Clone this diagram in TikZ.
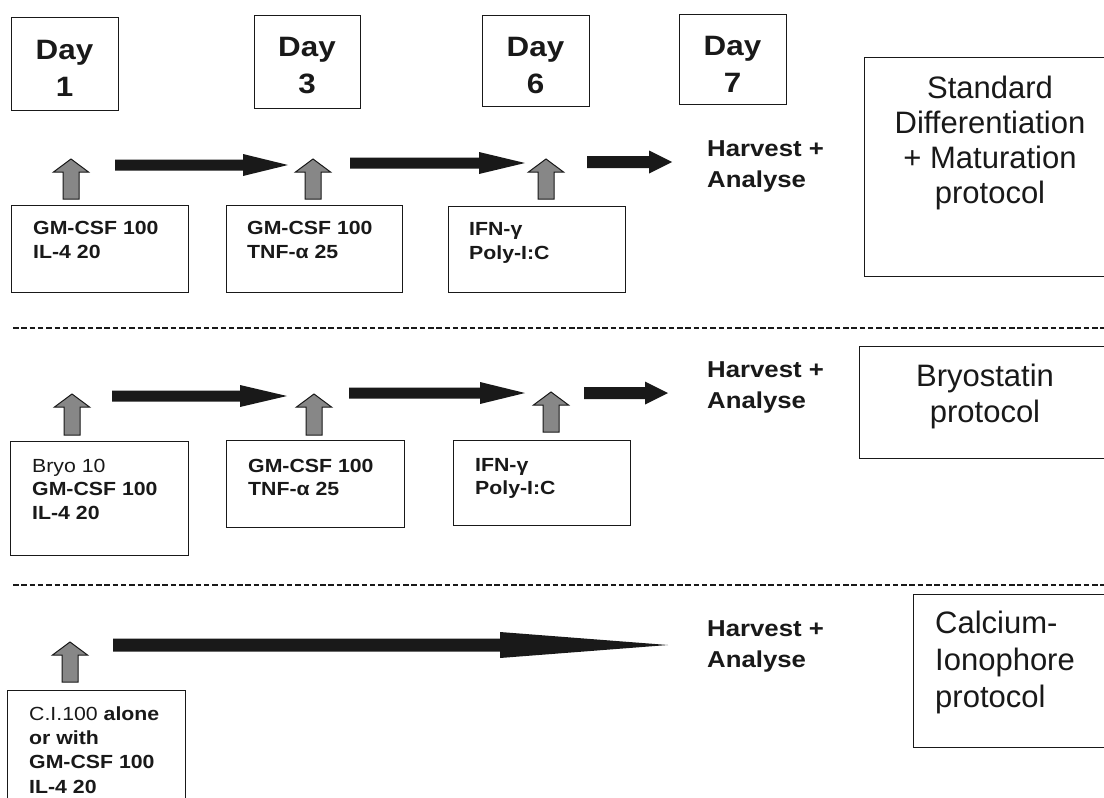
\documentclass[tikz,border=0pt]{standalone}
\usepackage{fontspec}
\setmainfont{Liberation Sans}
\newfontfamily\widefont{Liberation Sans}[FakeStretch=1.12]
\definecolor{arrowgray}{RGB}{135,135,135}
\definecolor{ink}{RGB}{25,25,25}
\newcommand{\bigrarrow}[6]{\fill[ink] (#1,{#3-#4}) -- ({#2-#6},{#3-#4}) -- ({#2-#6},{#3-#5}) -- (#2,#3) -- ({#2-#6},{#3+#5}) -- ({#2-#6},{#3+#4}) -- (#1,{#3+#4}) -- cycle;}
\newcommand{\uparrowshape}[3]{\filldraw[fill=arrowgray, draw=ink, line width=1pt, line join=miter] ({#1-8},#2) -- ({#1-8},{#3+13}) -- ({#1-17.5},{#3+13}) -- (#1,#3) -- ({#1+17.5},{#3+13}) -- ({#1+8},{#3+13}) -- ({#1+8},#2) -- cycle;}
\tikzset{
  box/.style={draw=ink, line width=1.3pt, inner sep=0pt, anchor=north west},
  daytxt/.style={font=\widefont\bfseries\fontsize{28}{37}\selectfont, align=center, inner sep=0pt, anchor=base, text=ink},
  smalltxt/.style={font=\widefont\bfseries\fontsize{19}{24}\selectfont, align=left, inner sep=0pt, anchor=base west, text=ink},
  harv/.style={font=\widefont\bfseries\fontsize{23}{31.5}\selectfont, align=left, inner sep=0pt, anchor=base west, text=ink},
  prot/.style={font=\fontsize{31}{35}\selectfont, inner sep=0pt, anchor=base, text=ink},
  sep/.style={draw=ink, line width=1.6pt, dash pattern=on 5.5pt off 2.8pt}
}
\begin{document}
\begin{tikzpicture}[x=1pt, y=-1pt]
\clip (0,0) rectangle (1104,798);
\fill[white] (0,0) rectangle (1104,798);

% Day boxes (text anchors are at the last line's baseline)
\node[box, minimum width=107, minimum height=93] (day1) at (11,17) {};
\node[daytxt] (day1t) at (64.5,96) {Day\\1};
\node[box, minimum width=106, minimum height=93] (day3) at (254,15) {};
\node[daytxt] (day3t) at (307,93) {Day\\3};
\node[box, minimum width=107, minimum height=91] (day6) at (482,15) {};
\node[daytxt] (day6t) at (535.5,93) {Day\\6};
\node[box, minimum width=107, minimum height=90] (day7) at (679,14) {};
\node[daytxt] (day7t) at (732.5,92) {Day\\7};

% Row 1
\uparrowshape{71}{199}{159}
\uparrowshape{313}{199}{159}
\uparrowshape{546}{199}{159}
\bigrarrow{115}{288}{165}{5.5}{11}{45}
\bigrarrow{350}{525}{163}{5.5}{11}{46}
\bigrarrow{587}{672}{162}{6}{11.5}{23}
\node[box, minimum width=177, minimum height=87] (b11) at (11,205) {};
\node[smalltxt] (t11) at (33,258) {GM-CSF 100\\IL-4 20};
\node[box, minimum width=176, minimum height=87] (b12) at (226,205) {};
\node[smalltxt] (t12) at (247,258) {GM-CSF 100\\TNF-α 25};
\node[box, minimum width=177, minimum height=86] (b13) at (448,206) {};
\node[smalltxt] (t13) at (469,259) {IFN-γ\\Poly-I:C};
\node[harv] (h1) at (707,187.5) {Harvest +\\Analyse};
\node[box, minimum width=256, minimum height=219] (rb1) at (864,57) {};
\node[prot, align=center] (rt1) at (990,203) {Standard\\Differentiation\\+ Maturation\\protocol};

\draw[sep] (13,328) -- (1104,328);

% Row 2
\uparrowshape{72}{435}{394}
\uparrowshape{314}{435}{394}
\uparrowshape{551}{432}{392}
\bigrarrow{112}{287}{396}{5.5}{11}{47}
\bigrarrow{349}{525}{393}{5.5}{11}{45}
\bigrarrow{584}{668}{393}{6}{11.5}{23}
\node[box, minimum width=178, minimum height=114] (b21) at (10,441) {};
\node[smalltxt, font=\widefont\bfseries\fontsize{19}{23.5}\selectfont] (t21) at (32,519) {{\mdseries Bryo 10}\\GM-CSF 100\\IL-4 20};
\node[box, minimum width=178, minimum height=87] (b22) at (226,440) {};
\node[smalltxt, font=\widefont\bfseries\fontsize{19}{23.5}\selectfont] (t22) at (248,495.5) {GM-CSF 100\\TNF-α 25};
\node[box, minimum width=177, minimum height=85] (b23) at (453,440) {};
\node[smalltxt, font=\widefont\bfseries\fontsize{19}{23.5}\selectfont] (t23) at (475,494.5) {IFN-γ\\Poly-I:C};
\node[harv] (h2) at (707,408.5) {Harvest +\\Analyse};
\node[box, minimum width=261, minimum height=112] (rb2) at (859,346) {};
\node[prot, align=center, font=\fontsize{31}{36}\selectfont] (rt2) at (985,422) {Bryostatin\\protocol};

\draw[sep] (13,585) -- (1104,585);

% Row 3
\uparrowshape{70}{682}{642}
\bigrarrow{113}{668}{645}{6.5}{13}{168}
\node[box, minimum width=178, minimum height=130] (b31) at (7,690) {};
\node[smalltxt, font=\widefont\bfseries\fontsize{19}{24.3}\selectfont] (t31) at (29,793) {{\mdseries C.I.100} alone\\or with\\GM-CSF 100\\IL-4 20};
\node[harv] (h3) at (707,667.5) {Harvest +\\Analyse};
\node[box, minimum width=207, minimum height=153] (rb3) at (913,594) {};
\node[prot, align=left, anchor=base west, font=\fontsize{31}{37}\selectfont] (rt3) at (935,707) {Calcium-\\Ionophore\\protocol};
\end{tikzpicture}
\end{document}
